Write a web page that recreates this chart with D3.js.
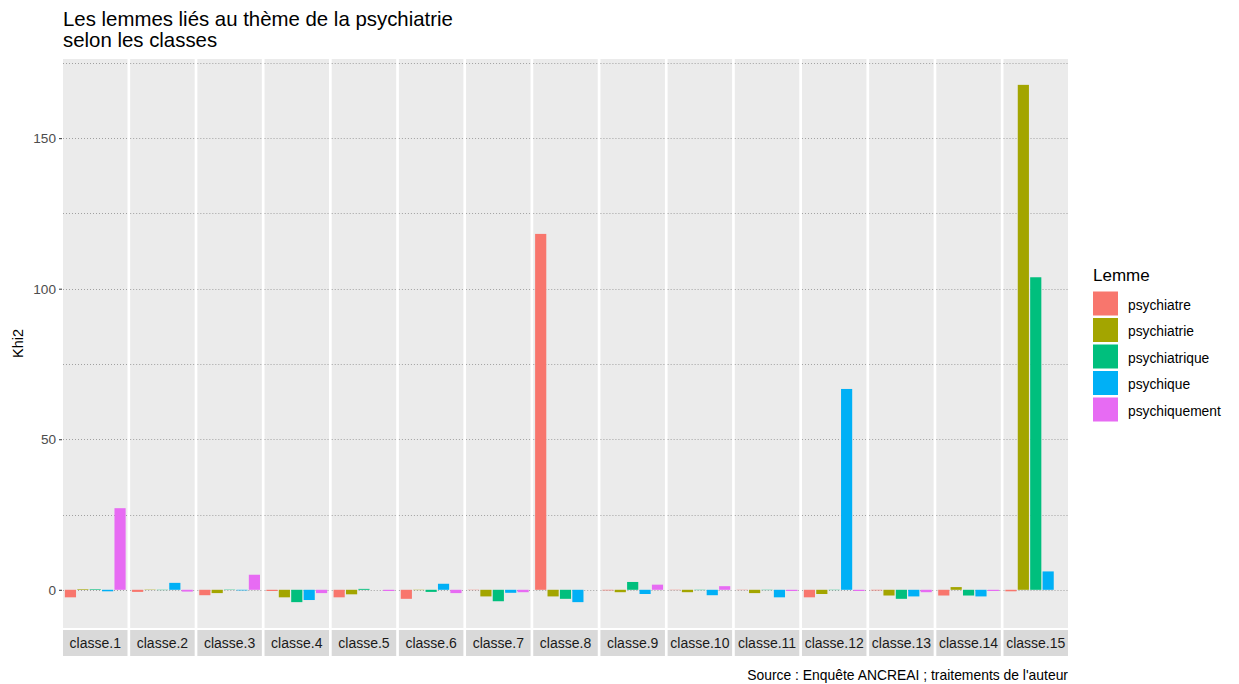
<!DOCTYPE html>
<meta charset="utf-8">
<style>
body {
	margin: 0;
	background-color: white;
}
text {
	font-family: "Liberation Sans", Arial, sans-serif;
}
.grid line {
	stroke: #a0a0a0;
	stroke-width: 1px;
	stroke-dasharray: 1, 2;
}
</style>
<html>
	<head>
		<title>Lemmes psychiatrie</title>
		<script src="https://cdn.jsdelivr.net/npm/d3@7"></script>
	</head>
	<body>
		<svg id="chart"></svg>
<script>
'use strict'

const width = 1239,
	  height = 684

// data
const classes = ["classe.1", "classe.2", "classe.3", "classe.4", "classe.5", "classe.6", "classe.7", "classe.8",
	"classe.9", "classe.10", "classe.11", "classe.12", "classe.13", "classe.14", "classe.15"]
const lemmes = ["psychiatre", "psychiatrie", "psychiatrique", "psychique", "psychiquement"]
const colors = ["#F8766D", "#A3A500", "#00BF7D", "#00B0F6", "#E76BF3"]

// Khi2 per classe, one array per lemme (in the order of classes)
const psychiatre    = [-2.5, -0.7, -1.8, -0.4, -2.5, -3.0, -0.1, 118.2, -0.2, -0.1, -0.1, -2.5, -0.2, -1.9, -0.5]
const psychiatrie   = [0.2, 0.1, -1.1, -2.5, -1.5, -0.1, -2.2, -2.2, -0.8, -0.8, -1.1, -1.4, -1.9, 0.9, 167.7]
const psychiatrique = [0.2, -0.1, 0.1, -4.1, 0.3, -0.7, -3.8, -3.0, 2.6, -0.1, -0.1, -0.1, -3.0, -1.9, 103.8]
const psychique     = [-0.5, 2.3, -0.2, -3.4, 0, 2.0, -1.0, -4.1, -1.4, -1.8, -2.5, 66.7, -2.2, -2.2, 6.1]
const psychiquement = [27.1, -0.6, 5.0, -1.1, -0.4, -1.1, -0.8, 0, 1.7, 1.2, -0.4, -0.4, -0.8, -0.4, 0]
const series = [psychiatre, psychiatrie, psychiatrique, psychique, psychiquement]

const yMajor = [0, 50, 100, 150],
	  yMinor = [25, 75, 125, 175]

// flat rows for the bars
const rows = []
classes.forEach((c, i) => {
	lemmes.forEach((l, j) => rows.push({classe: c, lemme: l, value: series[j][i]}))
})

const svg = d3.select("#chart")
	.attr("width", width)
	.attr("height", height)

// panel layout
const panelTop = 59, panelBottom = 628, stripH = 26
const xPanel = d3.scaleBand()
	.domain(classes)
	.range([63, 1068])
	.paddingInner(0.04)
	.paddingOuter(0)

const xBar = d3.scaleBand()
	.domain(lemmes)
	.range([0, xPanel.bandwidth()])
	.paddingInner(0.1)
	.paddingOuter(0.15)

// ggplot-like 5% expansion of the data range
const ext = d3.extent(rows, d => d.value)
const pad = (ext[1] - ext[0]) * 0.05
const y = d3.scaleLinear()
	.domain([ext[0] - pad, ext[1] + pad])
	.range([panelBottom, panelTop])

const color = d3.scaleOrdinal().domain(lemmes).range(colors)

// title
svg.append("text")
	.attr("x", 63)
	.attr("y", 26)
	.attr("font-size", "20.4px")
	.attr("fill", "black")
	.text("Les lemmes liés au thème de la psychiatrie")
svg.append("text")
	.attr("x", 63)
	.attr("y", 47)
	.attr("font-size", "20.4px")
	.attr("fill", "black")
	.text("selon les classes")

// panels
const panel = svg.selectAll(".panel")
	.data(classes)
	.enter().append("g")
	.attr("class", "panel")
	.attr("transform", d => "translate(" + xPanel(d) + ",0)")

panel.append("rect")
	.attr("y", panelTop)
	.attr("width", xPanel.bandwidth())
	.attr("height", panelBottom - panelTop)
	.attr("fill", "#EBEBEB")

const grid = panel.append("g").attr("class", "grid")
grid.selectAll("line")
	.data(yMajor.concat(yMinor))
	.enter().append("line")
	.attr("x1", 0)
	.attr("x2", xPanel.bandwidth())
	.attr("y1", d => Math.round(y(d)) + 0.5)
	.attr("y2", d => Math.round(y(d)) + 0.5)

panel.selectAll(".bar")
	.data(c => rows.filter(r => r.classe === c))
	.enter().append("rect")
	.attr("class", "bar")
	.attr("x", d => xBar(d.lemme))
	.attr("width", xBar.bandwidth())
	.attr("y", d => y(Math.max(0, d.value)))
	.attr("height", d => Math.abs(y(d.value) - y(0)))
	.attr("fill", d => color(d.lemme))

// strips at the bottom
panel.append("rect")
	.attr("y", panelBottom + 2)
	.attr("width", xPanel.bandwidth())
	.attr("height", stripH)
	.attr("fill", "#D9D9D9")
panel.append("text")
	.attr("x", xPanel.bandwidth() / 2)
	.attr("y", panelBottom + 2 + stripH / 2 + 5)
	.attr("text-anchor", "middle")
	.attr("font-size", "14px")
	.attr("fill", "#1A1A1A")
	.text(d => d)

// y axis
const yAxis = d3.axisLeft(y)
	.tickValues(yMajor)
	.tickSize(3)
	.tickPadding(3)
const gy = svg.append("g")
	.attr("transform", "translate(62,0)")
	.call(yAxis)
gy.select(".domain").remove()
gy.selectAll(".tick line").attr("stroke", "#333333")
gy.selectAll(".tick text")
	.attr("fill", "#4D4D4D")
	.attr("font-size", "13.6px")
	.attr("font-family", "'Liberation Sans', Arial, sans-serif")

svg.append("text")
	.attr("transform", "translate(23," + (panelTop + panelBottom) / 2 + ") rotate(-90)")
	.attr("text-anchor", "middle")
	.attr("font-size", "14.5px")
	.attr("fill", "black")
	.text("Khi2")

// legend
const legend = svg.append("g").attr("transform", "translate(1093,0)")
legend.append("text")
	.attr("x", 0)
	.attr("y", 281)
	.attr("font-size", "17px")
	.attr("fill", "black")
	.text("Lemme")
const item = legend.selectAll(".item")
	.data(lemmes)
	.enter().append("g")
	.attr("transform", (d, i) => "translate(0," + (291.5 + i * 26.5) + ")")
item.append("rect")
	.attr("width", 25)
	.attr("height", 24)
	.attr("fill", d => color(d))
item.append("text")
	.attr("x", 35)
	.attr("y", 18)
	.attr("font-size", "13.8px")
	.attr("fill", "black")
	.text(d => d)

// caption
svg.append("text")
	.attr("x", 1068)
	.attr("y", 680)
	.attr("text-anchor", "end")
	.attr("font-size", "13.9px")
	.attr("fill", "black")
	.text("Source : Enquête ANCREAI ; traitements de l'auteur")
</script>
	</body>
</html>
